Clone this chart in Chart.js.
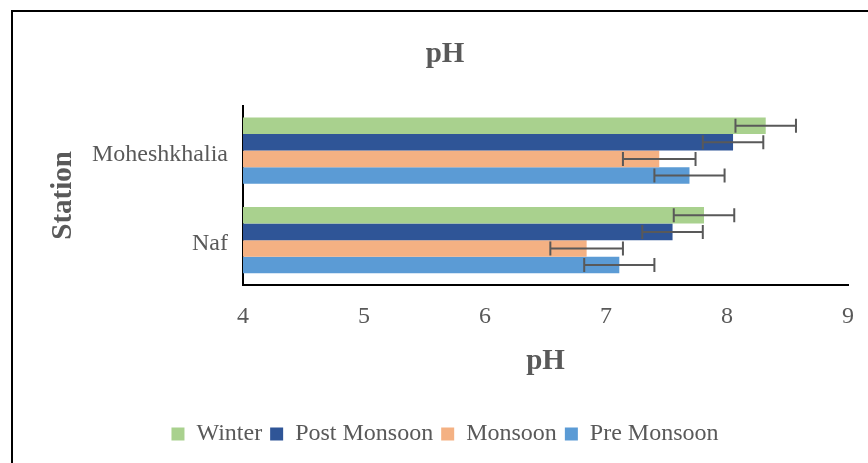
<!DOCTYPE html>
<html>
<head>
<meta charset="utf-8">
<script src="https://cdn.jsdelivr.net/npm/chart.js@4"></script>
<style>
  html, body { margin: 0; padding: 0; background: #fff; overflow: hidden; }
  #frame { position: absolute; left: 11px; top: 10px; width: 900px; height: 500px; border: 2px solid #000; }
  #wrap { position: absolute; left: 0; top: 0; width: 868px; height: 463px; }
</style>
</head>
<body>
<div id="frame"></div>
<div id="wrap"><canvas id="ph" width="868" height="463"></canvas></div>
<script>
const stations = ['Moheshkhalia', 'Naf'];
const seasons = ['Winter', 'Post Monsoon', 'Monsoon', 'Pre Monsoon'];
const winter = [8.32, 7.81];
const postMonsoon = [8.05, 7.55];
const monsoon = [7.44, 6.84];
const preMonsoon = [7.69, 7.11];
const winterErr = [0.25, 0.25];
const postMonsoonErr = [0.25, 0.25];
const monsoonErr = [0.30, 0.30];
const preMonsoonErr = [0.29, 0.29];
const xTicks = [4, 5, 6, 7, 8, 9];

const colors = ['#A9D18E', '#2F5597', '#F4B183', '#5B9BD5'];
const values = [winter, postMonsoon, monsoon, preMonsoon];
const errors = [winterErr, postMonsoonErr, monsoonErr, preMonsoonErr];
const grey = '#595959';
const serif = '"Liberation Serif", "Times New Roman", serif';

// error bars drawn from the x scale
const errorBars = {
    id: 'errorBars',
    afterDatasetsDraw(chart) {
        const ctx = chart.ctx;
        const xs = chart.scales.x;
        ctx.save();
        ctx.strokeStyle = grey;
        ctx.lineWidth = 2;
        chart.data.datasets.forEach((ds, i) => {
            const meta = chart.getDatasetMeta(i);
            meta.data.forEach((bar, j) => {
                const v = ds.data[j];
                const e = ds.errors[j];
                const x1 = xs.getPixelForValue(v - e);
                const x2 = xs.getPixelForValue(v + e);
                const y = bar.y;
                const h = 7;
                ctx.beginPath();
                ctx.moveTo(x1, y); ctx.lineTo(x2, y);
                ctx.moveTo(x1, y - h); ctx.lineTo(x1, y + h);
                ctx.moveTo(x2, y - h); ctx.lineTo(x2, y + h);
                ctx.stroke();
            });
        });
        ctx.restore();
    }
};

new Chart(document.getElementById('ph'), {
    type: 'bar',
    data: {
        labels: stations,
        datasets: seasons.map((s, i) => ({
            label: s,
            data: values[i],
            errors: errors[i],
            backgroundColor: colors[i],
            borderWidth: 0,
            categoryPercentage: 0.74,
            barPercentage: 1
        }))
    },
    options: {
        indexAxis: 'y',
        responsive: false,
        animation: false,
        layout: { padding: { left: 42, right: 20, top: 0, bottom: 7 } },
        scales: {
            x: {
                min: 4,
                max: 9,
                afterBuildTicks(scale) { scale.ticks = xTicks.map(v => ({ value: v })); },
                afterFit(scale) { scale.height = 129; },
                grid: { display: false },
                border: { color: '#000', width: 2 },
                ticks: { color: grey, padding: 9, font: { family: serif, size: 24 } },
                title: {
                    display: true, text: 'pH', color: grey,
                    font: { family: serif, size: 29, weight: 'bold' },
                    padding: { top: 0, bottom: 35 }
                }
            },
            y: {
                afterFit(scale) { scale.width = 201; },
                grid: { display: false },
                border: { color: '#000', width: 2 },
                ticks: { color: grey, padding: 7, labelOffset: 4, font: { family: serif, size: 24 } },
                title: {
                    display: true, text: 'Station', color: grey,
                    font: { family: serif, size: 29, weight: 'bold' },
                    padding: { top: 4, bottom: 0 }
                }
            }
        },
        plugins: {
            title: {
                display: true, text: 'pH', color: grey,
                font: { family: serif, size: 29, weight: 'bold' },
                padding: { top: 37, bottom: 34 }
            },
            legend: {
                position: 'bottom',
                labels: { color: grey, boxWidth: 13, boxHeight: 13, padding: 8, font: { family: serif, size: 24 } }
            },
            tooltip: { enabled: false }
        }
    },
    plugins: [errorBars]
});
</script>
</body>
</html>
